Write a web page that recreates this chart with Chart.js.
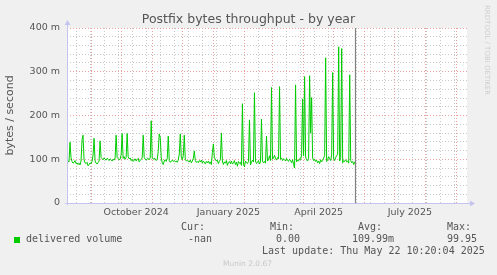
<!DOCTYPE html>
<html>
<head>
<meta charset="utf-8">
<script src="https://cdn.jsdelivr.net/npm/chart.js@4/dist/chart.umd.min.js"></script>
<style>
  html, body { margin: 0; padding: 0; background: #f0f0f0; }
  #wrap { position: relative; width: 497px; height: 275px; overflow: hidden; }
  canvas { position: absolute; left: 0; top: 0; }
  .t { position: absolute; font-family: "DejaVu Sans Mono", monospace; font-size: 10px; line-height: 12px; color: #555; white-space: pre; }
  #sw { position: absolute; left: 14px; top: 237px; width: 6px; height: 6px; background: #00cc00; }
  #munin { position: absolute; left: 223px; top: 259px; font-family: "DejaVu Sans", sans-serif; font-size: 7.5px; line-height: 10px; color: #c8c8c8; }
  #rrd { position: absolute; left: 482px; top: 5px; font-family: "DejaVu Sans", sans-serif; font-size: 7px; line-height: 9px; color: #cfcfcf; writing-mode: vertical-rl; white-space: nowrap; }
</style>
</head>
<body>
<div id="wrap">
  <canvas id="c" width="497" height="275"></canvas>
  <div id="sw"></div>
  <div class="t" style="left:26px;top:233px;">delivered volume</div>
  <div class="t" style="left:181px;top:221px;">Cur:</div>
  <div class="t" style="left:188px;top:233px;">-nan</div>
  <div class="t" style="left:270px;top:221px;">Min:</div>
  <div class="t" style="left:276px;top:233px;">0.00</div>
  <div class="t" style="left:358px;top:221px;">Avg:</div>
  <div class="t" style="left:352px;top:233px;">109.99m</div>
  <div class="t" style="left:447px;top:221px;">Max:</div>
  <div class="t" style="left:447px;top:233px;">99.95</div>
  <div class="t" style="left:262px;top:245px;">Last update: Thu May 22 10:20:04 2025</div>
  <div id="munin">Munin 2.0.67</div>
  <div id="rrd">RRDTOOL / TOBI OETIKER</div>
</div>
<script>
// Day 0 = 2024-08-08 ; one value per day (units: milli-bytes/second, "m")
const startDate = '2024-08-08';
const values = [
  90, 96, 94, 139, 104, 95, 91, 93, 97, 90,
  92, 88, 91, 87, 96, 145, 155, 99, 92, 90,
  93, 85, 88, 92, 90, 95, 110, 148, 96, 91,
  89, 92, 96, 142, 104, 101, 99, 103, 100, 98,
  102, 100, 97, 101, 99, 96, 100, 98, 103, 155,
  104, 101, 99, 100, 110, 159, 102, 106, 100, 104,
  159, 106, 101, 103, 97, 100, 95, 98, 101, 96,
  99, 102, 94, 97, 100, 103, 155, 104, 100, 98,
  101, 102, 99, 103, 188, 104, 100, 102, 101, 97,
  100, 118, 158, 150, 104, 92, 88, 96, 99, 95,
  102, 153, 97, 93, 96, 98, 95, 97, 94, 96,
  93, 98, 112, 158, 105, 99, 108, 155, 100, 96,
  97, 95, 94, 98, 92, 96, 102, 119, 97, 93,
  95, 92, 97, 94, 98, 91, 96, 93, 89, 95,
  92, 96, 90, 94, 88, 115, 135, 104, 100, 96,
  98, 90, 95, 99, 160, 96, 88, 94, 91, 97,
  86, 93, 95, 90, 96, 89, 92, 97, 88, 93,
  84, 95, 91, 93, 86, 227, 88, 83, 96, 92,
  90, 95, 190, 87, 93, 98, 94, 252, 96, 90,
  93, 97, 89, 94, 192, 96, 92, 95, 91, 153,
  96, 99, 108, 97, 264, 100, 103, 109, 102, 98,
  104, 101, 266, 100, 103, 97, 101, 99, 96, 102,
  98, 95, 100, 97, 92, 99, 88, 80, 270, 94,
  98, 96, 101, 99, 110, 238, 108, 289, 105, 99,
  96, 102, 291, 160, 241, 103, 97, 100, 95, 98,
  92, 96, 90, 99, 94, 97, 103, 108, 332, 95,
  99, 106, 101, 97, 110, 298, 100, 97, 104, 108,
  112, 357, 96, 104, 353, 92, 97, 95, 99, 94,
  96, 91, 293, 97, 92, 95, 88, 94
];
// axis range in days from startDate
const xMin = 0, xMax = 399;
const nowDay = 287.6; // Thu May 22 10:20 2025
// month starts (major grid)
const monthDays = [24, 54, 85, 115, 146, 177, 205, 236, 266, 297, 327, 358, 389];
// minor grid (every two weeks)
const minorDays = [9, 23, 37, 51, 65, 79, 93, 107, 121, 135, 149, 163, 177, 191, 205, 219, 233, 247, 261, 275, 289, 303, 317, 331, 345, 359, 373, 387];
// tick labels placed mid-month
const labelDays = [69, 161, 251, 342];
const labelTexts = ['October 2024', 'January 2025', 'April 2025', 'July 2025'];
const yMin = 0, yMax = 400, yStep = 20;
const yMajor = [0, 100, 200, 300, 400];
const yLabels = ['0', '100 m', '200 m', '300 m', '400 m'];

const RED = '#e8a0a0', GRAY = '#c8c8c8', AXIS = '#c4c4ee', TXT = '#555555';
const points = values.map((v, i) => ({ x: i, y: v }));

const deco = {
  id: 'deco',
  beforeDraw(chart) {
    const a = chart.chartArea, ctx = chart.ctx;
    ctx.save();
    ctx.fillStyle = '#ffffff';
    ctx.fillRect(a.left, a.top, a.right - a.left, a.bottom - a.top);
    ctx.restore();
  },
  afterDatasetsDraw(chart) {
    const a = chart.chartArea, ctx = chart.ctx;
    const xs = chart.scales.x;
    const nx = Math.round(xs.getPixelForValue(nowDay)) + 0.5;
    ctx.save();
    ctx.setLineDash([]);
    ctx.strokeStyle = '#808080';
    ctx.lineWidth = 1.2;
    ctx.beginPath(); ctx.moveTo(nx, a.top); ctx.lineTo(nx, a.bottom); ctx.stroke();
    // axis lines, extensions and arrows
    ctx.strokeStyle = AXIS; ctx.fillStyle = AXIS; ctx.lineWidth = 1;
    const lx = Math.round(a.left) + 0.5, by = Math.round(a.bottom) + 0.5;
    ctx.beginPath(); ctx.moveTo(lx, a.bottom + 2); ctx.lineTo(lx, a.top - 4); ctx.stroke();
    ctx.beginPath(); ctx.moveTo(lx - 3, a.top - 3); ctx.lineTo(lx + 3, a.top - 3); ctx.lineTo(lx, a.top - 8); ctx.closePath(); ctx.fill();
    ctx.beginPath(); ctx.moveTo(a.left - 2, by); ctx.lineTo(a.right + 4, by); ctx.stroke();
    ctx.beginPath(); ctx.moveTo(a.right + 3, by - 3); ctx.lineTo(a.right + 3, by + 3); ctx.lineTo(a.right + 8, by); ctx.closePath(); ctx.fill();
    ctx.restore();
  }
};

new Chart(document.getElementById('c'), {
  type: 'line',
  data: {
    datasets: [{
      label: 'delivered volume',
      data: points,
      borderColor: '#00cc00',
      borderWidth: 1,
      pointRadius: 0,
      tension: 0,
      fill: false
    }]
  },
  options: {
    responsive: false,
    animation: false,
    events: [],
    layout: { padding: 0 },
    plugins: {
      legend: { display: false },
      tooltip: { enabled: false },
      title: {
        display: true,
        text: 'Postfix bytes throughput - by year',
        color: TXT,
        font: { family: 'DejaVu Sans', size: 12.5, weight: 'normal' },
        padding: { top: 12, bottom: 1 }
      }
    },
    scales: {
      x: {
        type: 'linear',
        min: xMin, max: xMax,
        afterBuildTicks(s) {
          const all = [...monthDays, ...minorDays, ...labelDays].sort((p, q) => p - q);
          s.ticks = all.map(v => ({ value: v }));
        },
        afterFit(s) { s.height = 72; },
        grid: {
          drawTicks: false,
          color(ctx) {
            const v = ctx.tick && ctx.tick.value;
            if (monthDays.includes(v)) return RED;
            if (minorDays.includes(v)) return GRAY;
            return 'rgba(0,0,0,0)';
          },
          lineWidth: 1
        },
        border: { display: false, dash: [1, 2] },
        ticks: {
          autoSkip: false, maxRotation: 0, padding: 4, color: TXT,
          font: { family: 'DejaVu Sans', size: 9.5 },
          callback(v) { const i = labelDays.indexOf(v); return i >= 0 ? labelTexts[i] : ''; }
        }
      },
      y: {
        min: yMin, max: yMax,
        afterFit(s) { s.width = 67; },
        grid: {
          drawTicks: false,
          color(ctx) {
            const v = ctx.tick && ctx.tick.value;
            return yMajor.includes(v) ? RED : GRAY;
          }
        },
        border: { display: false, dash: [1, 2] },
        ticks: {
          stepSize: yStep, autoSkip: false, padding: 7, color: TXT,
          font: { family: 'DejaVu Sans', size: 9.5 },
          callback(v) { const i = yMajor.indexOf(v); return i >= 0 ? yLabels[i] : ''; }
        },
        title: {
          display: true, text: 'bytes / second', color: TXT,
          font: { family: 'DejaVu Sans', size: 11 },
          padding: { top: 4, bottom: 0 }
        }
      },
      yRight: {
        position: 'right',
        min: yMin, max: yMax,
        afterFit(s) { s.width = 30; },
        grid: { display: false, drawOnChartArea: false, drawTicks: false },
        border: { display: false },
        ticks: { display: false }
      }
    }
  },
  plugins: [deco]
});
</script>
</body>
</html>
